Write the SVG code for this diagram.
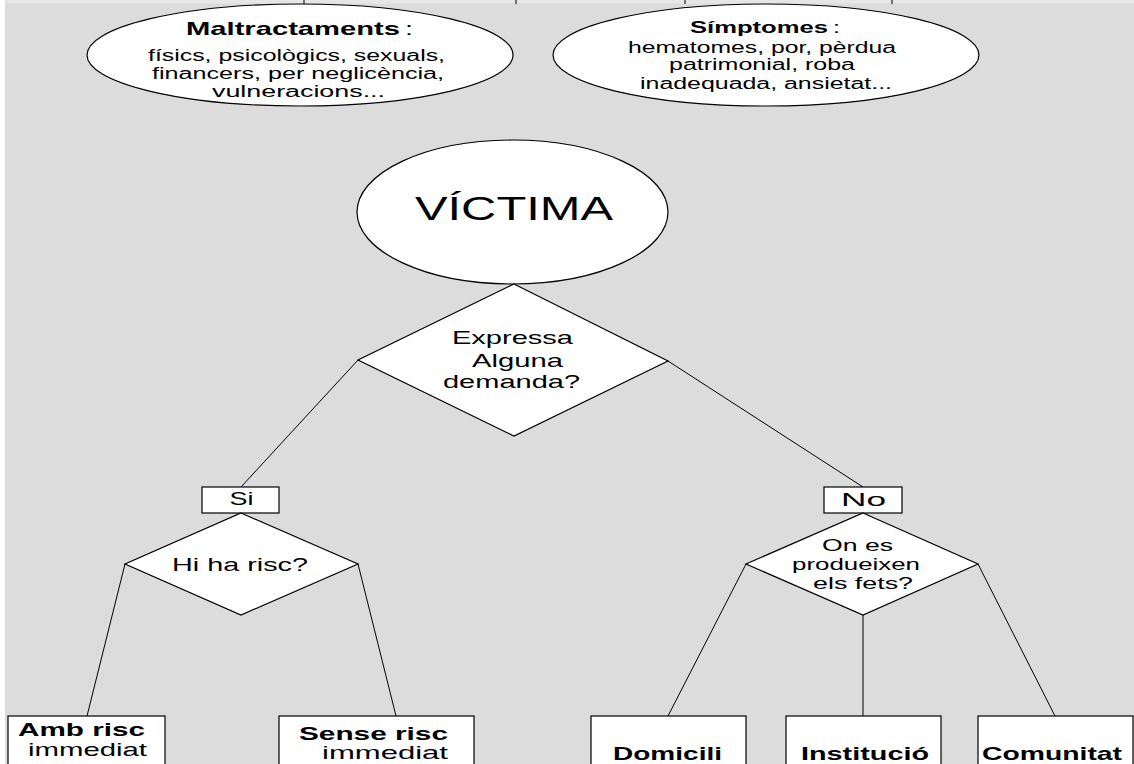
<svg xmlns="http://www.w3.org/2000/svg" width="1134" height="764" viewBox="0 0 1134 764">
<style>
.sh{fill:#fff;stroke:#000;stroke-width:1.2}
.ln{stroke:#000;stroke-width:1;fill:none}
text{font-family:"Liberation Sans",Arial,sans-serif;fill:#000}
.b{font-weight:bold}
</style>
<rect x="0" y="0" width="1134" height="764" fill="#fff"/>
<rect x="5" y="0" width="1129" height="764" fill="#e6e6e6"/>
<rect x="5" y="3.5" width="1129" height="761" fill="#dcdcdc"/>
<g id="connectors">
<line class="ln" x1="304" y1="0" x2="304" y2="4"/>
<line class="ln" x1="516" y1="0" x2="516" y2="4"/>
<line class="ln" x1="685" y1="0" x2="685" y2="4"/>
<line class="ln" x1="892" y1="0" x2="892" y2="4"/>
<line class="ln" x1="358" y1="360" x2="241" y2="487"/>
<line class="ln" x1="668" y1="361" x2="863" y2="487"/>
<line class="ln" x1="125" y1="564" x2="87" y2="716"/>
<line class="ln" x1="358" y1="564" x2="396" y2="716"/>
<line class="ln" x1="746" y1="564" x2="668" y2="716"/>
<line class="ln" x1="863" y1="615" x2="863" y2="716"/>
<line class="ln" x1="978" y1="564" x2="1055" y2="716"/>
</g>
<g id="maltractaments">
<ellipse class="sh" cx="300" cy="55" rx="213" ry="51"/>
<text class="b" x="186" y="35" font-size="19" textLength="214" lengthAdjust="spacingAndGlyphs">Maltractaments</text>
<text x="405" y="35" font-size="19" textLength="8" lengthAdjust="spacingAndGlyphs">:</text>
<text x="148" y="61" font-size="16" textLength="297" lengthAdjust="spacingAndGlyphs">físics, psicològics, sexuals,</text>
<text x="152" y="79" font-size="16" textLength="292" lengthAdjust="spacingAndGlyphs">financers, per neglicència,</text>
<text x="212" y="97" font-size="16" textLength="173" lengthAdjust="spacingAndGlyphs">vulneracions...</text>
</g>
<g id="simptomes">
<ellipse class="sh" cx="766" cy="55" rx="213" ry="51"/>
<text class="b" x="690" y="33" font-size="16.5" textLength="138" lengthAdjust="spacingAndGlyphs">Símptomes</text>
<text x="833" y="33" font-size="16.5" textLength="7" lengthAdjust="spacingAndGlyphs">:</text>
<text x="628" y="53" font-size="16" textLength="268" lengthAdjust="spacingAndGlyphs">hematomes, por, pèrdua</text>
<text x="669" y="70" font-size="16" textLength="186" lengthAdjust="spacingAndGlyphs">patrimonial, roba</text>
<text x="640" y="89" font-size="16" textLength="252" lengthAdjust="spacingAndGlyphs">inadequada, ansietat...</text>
</g>
<g id="victima">
<ellipse class="sh" cx="512.5" cy="212" rx="155.5" ry="72"/>
<text x="415" y="220" font-size="34" textLength="198" lengthAdjust="spacingAndGlyphs">VÍCTIMA</text>
</g>
<g id="expressa">
<polygon class="sh" points="514,284 668,361 514,436 358,360"/>
<text x="452" y="344" font-size="19" textLength="121" lengthAdjust="spacingAndGlyphs">Expressa</text>
<text x="472" y="367" font-size="19" textLength="91" lengthAdjust="spacingAndGlyphs">Alguna</text>
<text x="443" y="388" font-size="19" textLength="137" lengthAdjust="spacingAndGlyphs">demanda?</text>
</g>
<g id="si">
<rect class="sh" x="202" y="487" width="77" height="26"/>
<text x="229.5" y="505" font-size="19" textLength="24" lengthAdjust="spacingAndGlyphs">Si</text>
</g>
<g id="no">
<rect class="sh" x="824" y="487" width="78" height="26"/>
<text x="841" y="506" font-size="19" textLength="45" lengthAdjust="spacingAndGlyphs">No</text>
</g>
<g id="risc">
<polygon class="sh" points="241,513 358,564 241,615 125,564"/>
<text x="172" y="571" font-size="19" textLength="136" lengthAdjust="spacingAndGlyphs">Hi ha risc?</text>
</g>
<g id="on">
<polygon class="sh" points="863,513 978,564 863,615 746,564"/>
<text x="822" y="551" font-size="17" textLength="71" lengthAdjust="spacingAndGlyphs">On es</text>
<text x="792" y="570" font-size="17" textLength="128" lengthAdjust="spacingAndGlyphs">produeixen</text>
<text x="813" y="589" font-size="17" textLength="100" lengthAdjust="spacingAndGlyphs">els fets?</text>
</g>
<g id="amb">
<rect class="sh" x="8" y="716" width="157" height="60"/>
<text class="b" x="18" y="736" font-size="19" textLength="127" lengthAdjust="spacingAndGlyphs">Amb risc</text>
<text x="28" y="756" font-size="19" textLength="119" lengthAdjust="spacingAndGlyphs">immediat</text>
</g>
<g id="sense">
<rect class="sh" x="279" y="716" width="195" height="60"/>
<text class="b" x="299" y="740" font-size="19" textLength="149" lengthAdjust="spacingAndGlyphs">Sense risc</text>
<text x="322" y="759" font-size="19" textLength="126" lengthAdjust="spacingAndGlyphs">immediat</text>
</g>
<g id="domicili">
<rect class="sh" x="591" y="716" width="155" height="60"/>
<text class="b" x="613" y="760" font-size="19" textLength="109" lengthAdjust="spacingAndGlyphs">Domicili</text>
</g>
<g id="institucio">
<rect class="sh" x="786" y="716" width="155" height="60"/>
<text class="b" x="801" y="760" font-size="19" textLength="128" lengthAdjust="spacingAndGlyphs">Institució</text>
</g>
<g id="comunitat">
<rect class="sh" x="978" y="716" width="155" height="60"/>
<text class="b" x="982" y="760" font-size="19" textLength="140" lengthAdjust="spacingAndGlyphs">Comunitat</text>
</g>
</svg>
